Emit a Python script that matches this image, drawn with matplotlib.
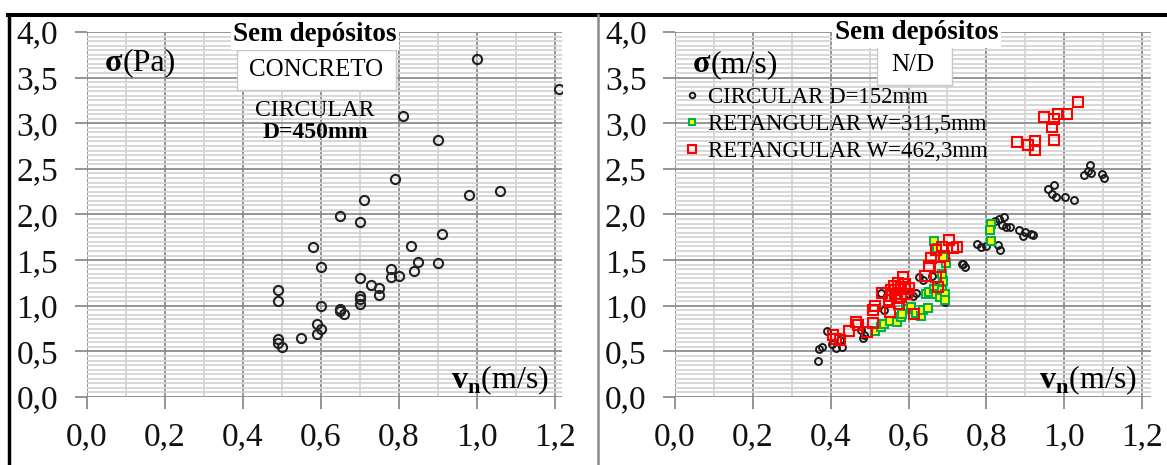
import matplotlib
matplotlib.use('Agg')
import matplotlib.pyplot as plt
from matplotlib.lines import Line2D
from matplotlib.patches import Rectangle
from matplotlib.ticker import MultipleLocator, FuncFormatter

plt.rcParams['font.family'] = ['Liberation Serif', 'DejaVu Serif']
plt.rcParams['mathtext.fontset'] = 'custom'
plt.rcParams['mathtext.rm'] = 'Liberation Serif'
plt.rcParams['mathtext.bf'] = 'Liberation Serif:bold'

# ---- left panel: concreto, circular D=450mm
conc_v = [1.00, 1.21, 0.81, 0.90, 0.79, 0.98, 1.06, 0.71, 0.65, 0.70,
          0.91, 0.58, 0.83, 0.60, 0.85, 0.90, 0.84, 0.78, 0.78, 0.80,
          0.70, 0.73, 0.75, 0.75, 0.49, 0.49, 0.70, 0.70, 0.70, 0.60,
          0.65, 0.65, 0.66, 0.59, 0.60, 0.59, 0.55, 0.49, 0.49, 0.50]
conc_s = [3.70, 3.38, 3.08, 2.82, 2.39, 2.21, 2.26, 2.16, 1.98, 1.92,
          1.79, 1.64, 1.66, 1.42, 1.48, 1.47, 1.38, 1.40, 1.32, 1.33,
          1.30, 1.23, 1.19, 1.12, 1.17, 1.05, 1.11, 1.07, 1.02, 1.00,
          0.96, 0.94, 0.91, 0.80, 0.75, 0.69, 0.65, 0.64, 0.59, 0.55]

# ---- right panel: N/D
circ_v = [0.368, 0.370, 0.377, 0.391, 0.403, 0.413, 0.429, 0.425, 0.479, 0.486,
          0.483, 0.529, 0.538, 0.602, 0.612, 0.618, 0.628, 0.637, 0.661, 0.670,
          0.689, 0.694, 0.741, 0.746, 0.737, 0.776, 0.786, 0.798, 0.831, 0.836,
          0.822, 0.833, 0.845, 0.841, 0.850, 0.861, 0.883, 0.893, 0.900, 0.914,
          0.921, 0.959, 0.975, 0.968, 0.978, 1.003, 1.025, 1.051, 1.060, 1.066,
          1.068, 1.096, 1.101]
circ_s = [0.40, 0.53, 0.55, 0.72, 0.58, 0.54, 0.55, 0.62, 0.73, 0.68,
          0.65, 1.14, 0.95, 1.13, 1.11, 1.14, 1.32, 1.28, 1.33, 1.21,
          1.08, 1.04, 1.46, 1.42, 1.46, 1.68, 1.64, 1.66, 1.67, 1.61,
          1.93, 1.95, 1.97, 1.88, 1.86, 1.86, 1.83, 1.76, 1.81, 1.79,
          1.78, 2.28, 2.32, 2.23, 2.19, 2.19, 2.16, 2.43, 2.48, 2.54,
          2.45, 2.44, 2.40]

ret311_v = [0.514, 0.529, 0.538, 0.552, 0.571, 0.581, 0.593, 0.583, 0.606, 0.618,
            0.631, 0.637, 0.650, 0.644, 0.653, 0.666, 0.670, 0.682, 0.687, 0.694,
            0.694, 0.689, 0.687, 0.666, 0.672, 0.697, 0.689, 0.812, 0.809, 0.812]
ret311_s = [0.72, 0.77, 0.80, 0.83, 0.82, 0.88, 0.96, 0.91, 0.99, 0.92,
            0.89, 0.95, 0.97, 1.13, 1.15, 1.18, 1.13, 1.10, 1.17, 1.13,
            1.06, 1.27, 1.35, 1.71, 1.63, 1.47, 1.53, 1.90, 1.83, 1.71]

ret462_v = [0.878, 0.907, 0.926, 0.924, 0.949, 0.968, 0.973, 0.975, 0.983, 1.006,
            1.035, 0.406, 0.413, 0.423, 0.448, 0.464, 0.469, 0.493, 0.510, 0.510,
            0.514, 0.533, 0.549, 0.552, 0.562, 0.566, 0.571, 0.581, 0.585, 0.590,
            0.595, 0.576, 0.555, 0.614, 0.642, 0.652, 0.659, 0.670, 0.680, 0.675,
            0.685, 0.691, 0.704, 0.713, 0.725, 0.670, 0.565, 0.580, 0.590, 0.572,
            0.600, 0.555]
ret462_s = [2.79, 2.76, 2.81, 2.71, 3.07, 2.96, 3.05, 2.82, 3.10, 3.10,
            3.23, 0.68, 0.64, 0.62, 0.72, 0.82, 0.79, 0.71, 0.81, 0.95,
            1.00, 1.14, 1.06, 0.93, 1.22, 1.13, 1.08, 1.19, 1.31, 1.24,
            1.13, 1.02, 1.11, 0.91, 1.33, 1.44, 1.52, 1.61, 1.42, 1.21,
            1.64, 1.55, 1.72, 1.63, 1.64, 1.32, 1.17, 1.10, 1.18, 1.25,
            1.20, 1.17]

legend_labels = ['CIRCULAR D=152mm', 'RETANGULAR W=311,5mm', 'RETANGULAR W=462,3mm']

W, H = 1167, 465
fig = plt.figure(figsize=(W / 100, H / 100), dpi=100)
fig.patch.set_facecolor('white')

comma = FuncFormatter(lambda v, p: f'{v:.1f}'.replace('.', ','))


def setup_axes(ax, xmax):
    ax.set_xlim(0, xmax)
    ax.set_ylim(0, 4)
    ax.xaxis.set_major_locator(MultipleLocator(0.2))
    ax.xaxis.set_minor_locator(MultipleLocator(0.1))
    ax.yaxis.set_major_locator(MultipleLocator(0.5))
    ax.yaxis.set_minor_locator(MultipleLocator(0.05))
    ax.xaxis.set_major_formatter(comma)
    ax.yaxis.set_major_formatter(comma)
    ax.grid(which='minor', color='#d4d4d4', lw=1.3)
    ax.grid(which='major', color='#8c8c8c', lw=1.3)
    ax.set_axisbelow(True)
    for sp in ax.spines.values():
        sp.set_visible(False)
    ax.tick_params(which='major', direction='out', length=8.5, width=1.3,
                   color='#8c8c8c', labelsize=24, labelcolor='#111111')
    ax.tick_params(axis='x', which='major', pad=9)
    ax.tick_params(axis='y', which='major', pad=12)
    ax.tick_params(which='minor', length=0)


def white_box(ax, x0, y0, x1, y1):
    ax.add_patch(Rectangle((x0, y0), x1 - x0, y1 - y0, transform=ax.transAxes,
                           facecolor='white', edgecolor='#c8c8c8', lw=1.0, zorder=3))


def sigma_label(ax, x, y, unit):
    t = ax.text(x, y, 'σ', transform=ax.transAxes, fontsize=23, fontweight='bold',
                ha='left', va='center', zorder=5)
    ax.annotate(unit, xy=(1, 0), xycoords=t, fontsize=23, ha='left', va='bottom', zorder=5)


# left axes
axL = fig.add_axes([86.5 / W, 68 / H, 475.5 / W, 365 / H])
setup_axes(axL, 1.218)
axL.plot(conc_v, conc_s, ls='none', marker='o', ms=6.6, mfc='none', mec='#222222',
         mew=1.5, zorder=4)
axL.text(0.4805, 0.992, 'Sem depósitos', transform=axL.transAxes, fontsize=19.5,
         fontweight='bold', ha='center', va='center', zorder=5,
         bbox=dict(facecolor='white', edgecolor='none', pad=2))
white_box(axL, 0.3165, 0.841, 0.651, 0.951)
axL.text(0.4826, 0.896, 'CONCRETO', transform=axL.transAxes, fontsize=18,
         ha='center', va='center', zorder=5)
axL.text(0.4805, 0.786, 'CIRCULAR', transform=axL.transAxes, fontsize=17,
         ha='center', va='center', zorder=5)
axL.text(0.4805, 0.726, 'D=450mm', transform=axL.transAxes, fontsize=17,
         fontweight='bold', ha='center', va='center', zorder=5)
sigma_label(axL, 0.039, 0.915, '(Pa)')
axL.text(0.973, 0.025, r'$\mathbf{v}_{\mathbf{n}}$(m/s)', transform=axL.transAxes,
         fontsize=23, ha='right', va='baseline', zorder=5)

# right axes
axR = fig.add_axes([675 / W, 68 / H, 476 / W, 365 / H])
setup_axes(axR, 1.223)
h1, = axR.plot(circ_v, circ_s, ls='none', marker='o', ms=5.0, mfc='none', mec='#1a1a1a',
               mew=1.4, zorder=4, label=legend_labels[0])
h2, = axR.plot(ret311_v, ret311_s, ls='none', marker='s', ms=5.8, mfc='#ffff00',
               mec='#00b050', mew=1.5, zorder=4, label=legend_labels[1])
h3, = axR.plot(ret462_v, ret462_s, ls='none', marker='s', ms=6.6, mfc='none',
               mec='#ff0000', mew=1.5, zorder=4, label=legend_labels[2])
axR.text(0.508, 0.998, 'Sem depósitos', transform=axR.transAxes, fontsize=19.5,
         fontweight='bold', ha='center', va='center', zorder=5,
         bbox=dict(facecolor='white', edgecolor='none', pad=2))
white_box(axR, 0.4244, 0.855, 0.582, 0.964)
axR.text(0.50, 0.9096, 'N/D', transform=axR.transAxes, fontsize=18,
         ha='center', va='center', zorder=5)
sigma_label(axR, 0.038, 0.9096, '(m/s)')
axR.text(0.970, 0.025, r'$\mathbf{v}_{\mathbf{n}}$(m/s)', transform=axR.transAxes,
         fontsize=23, ha='right', va='baseline', zorder=5)
leg = axR.legend(handles=[h1, h2, h3], loc='upper left', bbox_to_anchor=(0.022, 0.849),
                 frameon=False, fontsize=16.5, handlelength=0.6, handletextpad=0.38,
                 labelspacing=0.25, borderpad=0, borderaxespad=0, markerscale=0.8)
leg.set_zorder(6)

# frame lines of the original picture
fig.add_artist(Line2D([7.5 / W, 1], [1 - 15 / H, 1 - 15 / H], color='black', lw=2.9))
fig.add_artist(Line2D([9 / W, 9 / W], [0, 1 - 15 / H], color='black', lw=2.5))
fig.add_artist(Line2D([598 / W, 598 / W], [0, 1 - 15 / H], color='#8a8a8a', lw=1.8))

fig.savefig('out.png', dpi=100, facecolor='white')
